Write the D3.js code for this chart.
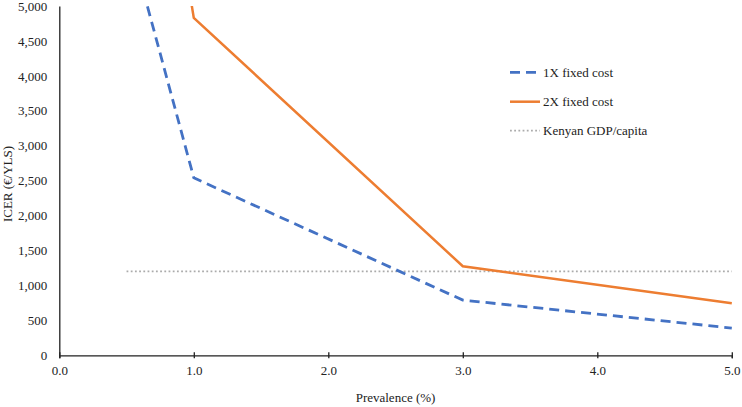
<!DOCTYPE html>
<html>
<head>
<meta charset="utf-8">
<script src="https://cdn.jsdelivr.net/npm/d3@7"></script>
<style>
  html, body { margin: 0; padding: 0; background: #fff; }
  svg { display: block; }
  svg text { font-family: "Liberation Serif", "Times New Roman", "DejaVu Serif", serif !important; }
</style>
</head>
<body>
<svg id="chart" width="742" height="407"></svg>
<script>
// ---- data ----
const prevalence = [0.5, 1.0, 3.0, 5.0];
const icer1x = [6100, 2540, 790, 390];
const icer2x = [10600, 4830, 1275, 745];
const gdpX = [0.5, 5.0];
const gdpY = [1200, 1200];
const xTicks = [0, 1, 2, 3, 4, 5];
const yTicks = [0, 500, 1000, 1500, 2000, 2500, 3000, 3500, 4000, 4500, 5000];
const seriesNames = ["1X fixed cost", "2X fixed cost", "Kenyan GDP/capita"];

// ---- layout ----
const svg = d3.select("#chart");
const x = d3.scaleLinear().domain([0, 5]).range([59.3, 731.8]);
const y = d3.scaleLinear().domain([0, 5000]).range([355.3, 6]);

const textColor = "#222";

svg.append("defs").append("clipPath").attr("id", "plotclip")
  .append("rect")
  .attr("x", x(0)).attr("y", y(5000))
  .attr("width", x(5) - x(0) + 2).attr("height", y(0) - y(5000));

// y axis
const yAxis = d3.axisLeft(y).tickValues(yTicks).tickSize(0).tickPadding(12)
  .tickFormat(d3.format(","));
const gy = svg.append("g").attr("transform", `translate(${x(0)},0)`).call(yAxis);
gy.attr("font-family", null);
gy.select(".domain").attr("stroke", "#222").attr("stroke-width", 1.3);
gy.selectAll("text").attr("font-size", 13).attr("fill", textColor);

// x axis
const xAxis = d3.axisBottom(x).tickValues(xTicks).tickSize(3).tickPadding(7)
  .tickFormat(d3.format(".1f"));
const gx = svg.append("g").attr("transform", `translate(0,${y(0)})`).call(xAxis);
gx.attr("font-family", null);
gx.select(".domain").attr("stroke", "#222").attr("stroke-width", 1.3);
gx.selectAll(".tick line").attr("stroke", "#222").attr("stroke-width", 1.3)
  .attr("y1", -3).attr("y2", 3);
gx.selectAll("text").attr("font-size", 13).attr("fill", textColor);

// axis titles
svg.append("text").attr("x", (x(0) + x(5)) / 2).attr("y", 402)
  .attr("text-anchor", "middle").attr("font-size", 13).attr("fill", textColor)
  .text("Prevalence (%)");
svg.append("text")
  .attr("transform", `translate(12,184) rotate(-90)`)
  .attr("text-anchor", "middle").attr("font-size", 13).attr("fill", textColor)
  .text("ICER (€/YLS)");

// lines
const line = d3.line().x(d => x(d[0])).y(d => y(d[1]));
const plot = svg.append("g").attr("clip-path", "url(#plotclip)");

const gdpData = gdpX.map((v, i) => [v, gdpY[i]]);
plot.append("path").datum(gdpData).attr("d", line)
  .attr("fill", "none").attr("stroke", "#ABABAB").attr("stroke-width", 1.8)
  .attr("stroke-dasharray", "1.8,2.4");

const d1 = prevalence.map((v, i) => [v, icer1x[i]]);
plot.append("path").datum(d1).attr("d", line)
  .attr("fill", "none").attr("stroke", "#4472C4").attr("stroke-width", 2.8)
  .attr("stroke-dasharray", "10,6");

const d2 = prevalence.map((v, i) => [v, icer2x[i]]);
plot.append("path").datum(d2).attr("d", line)
  .attr("fill", "none").attr("stroke", "#ED7D31").attr("stroke-width", 2.5);

// legend
const legY = [72.3, 101.7, 130.7];
const legStyles = [
  { c: "#4472C4", w: 2.8, dash: "10,6" },
  { c: "#ED7D31", w: 2.5, dash: null },
  { c: "#ABABAB", w: 1.8, dash: "1.8,2.4" }
];
seriesNames.forEach((name, i) => {
  const g = svg.append("g");
  const l = g.append("line").attr("x1", 510).attr("x2", 540)
    .attr("y1", legY[i]).attr("y2", legY[i])
    .attr("stroke", legStyles[i].c).attr("stroke-width", legStyles[i].w);
  if (legStyles[i].dash) l.attr("stroke-dasharray", legStyles[i].dash);
  g.append("text").attr("x", 543).attr("y", legY[i]).attr("dy", "0.35em")
    .attr("font-size", 13).attr("fill", textColor).text(name);
});
</script>
</body>
</html>
